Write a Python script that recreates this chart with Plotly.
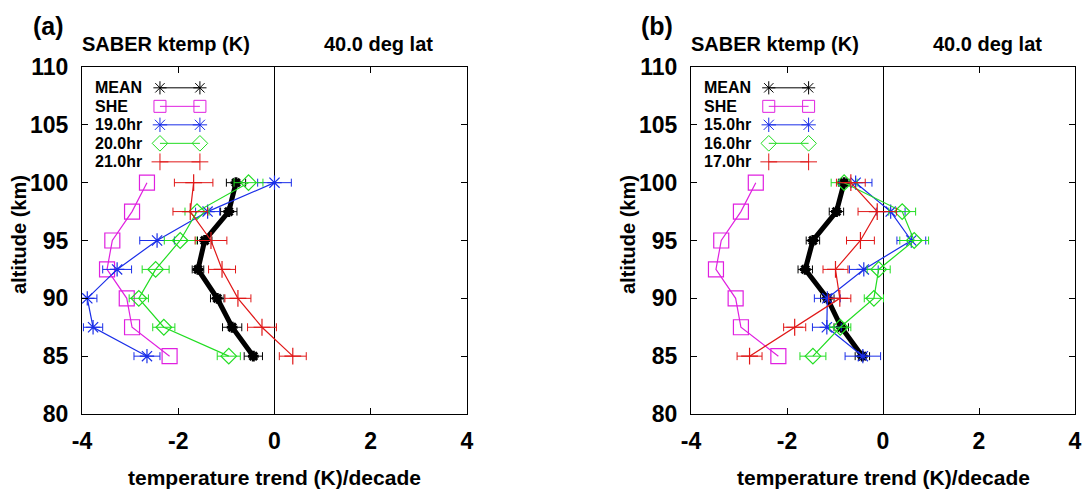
import plotly.graph_objects as go

# ---------------- data ----------------
ALT = [100, 97.5, 95, 92.5, 90, 87.5, 85]

SHE = [-2.65, -2.96, -3.37, -3.48, -3.07, -2.96, -2.18]

# panel (a)
A_MEAN = [-0.80, -0.95, -1.45, -1.59, -1.19, -0.88, -0.44]
A_MEAN_ERR = [0.20, 0.17, 0.15, 0.12, 0.14, 0.20, 0.19]
A_HR19 = [0.00, -1.39, -2.44, -3.27, -3.89, -3.77, -2.65]
A_HR19_ERR = [0.35, 0.25, 0.36, 0.30, 0.20, 0.20, 0.27]
A_HR20 = [-0.54, -1.61, -1.96, -2.47, -2.82, -2.30, -0.95]
A_HR20_ERR = [0.30, 0.25, 0.33, 0.28, 0.20, 0.23, 0.24]
A_HR21 = [-1.68, -1.75, -1.32, -1.09, -0.76, -0.26, 0.38]
A_HR21_ERR = [0.40, 0.36, 0.33, 0.28, 0.27, 0.30, 0.28]
A_LABELS = ["MEAN", "SHE", "19.0hr", "20.0hr", "21.0hr"]

# panel (b)
B_MEAN = [-0.81, -0.97, -1.46, -1.62, -1.16, -0.87, -0.43]
B_MEAN_ERR = [0.12, 0.15, 0.14, 0.15, 0.14, 0.15, 0.15]
B_HR15 = [-0.57, 0.16, 0.59, -0.40, -1.16, -1.17, -0.42]
B_HR15_ERR = [0.34, 0.30, 0.30, 0.30, 0.27, 0.30, 0.37]
B_HR16 = [-0.81, 0.40, 0.65, -0.09, -0.19, -0.89, -1.46]
B_HR16_ERR = [0.27, 0.28, 0.30, 0.24, 0.20, 0.22, 0.27]
B_HR17 = [-0.67, -0.12, -0.47, -0.99, -0.90, -1.84, -2.78]
B_HR17_ERR = [0.30, 0.40, 0.29, 0.26, 0.23, 0.23, 0.26]
B_LABELS = ["MEAN", "SHE", "15.0hr", "16.0hr", "17.0hr"]

X_TICKS = [-4, -2, 0, 2, 4]
X_TICKTEXT = ["-4", "-2", "0", "2", "4"]
Y_TICKS = [80, 85, 90, 95, 100, 105, 110]

# ---------------- styles ----------------
FONT = "Liberation Sans"
BLACK = "#000000"
MAGENTA = "#e020e0"
BLUE = "#1a2ee8"
GREEN = "#22dd22"
RED = "#e01818"

STYLES = [
    dict(color=BLACK, symbol="asterisk-open", size=9, mlw=3, lw=5),
    dict(color=MAGENTA, symbol="square-open", size=15, mlw=1.2, lw=1.2),
    dict(color=BLUE, symbol="asterisk-open", size=12, mlw=1.2, lw=1.2),
    dict(color=GREEN, symbol="diamond-open", size=12, mlw=1.2, lw=1.2),
    dict(color=RED, symbol="cross-thin-open", size=12, mlw=1.2, lw=1.2),
]

fig = go.Figure()


def add_series(x, err, st, xa, ya):
    fig.add_trace(go.Scatter(
        x=x, y=ALT, mode="lines+markers", xaxis=xa, yaxis=ya,
        line=dict(color=st["color"], width=st["lw"]),
        marker=dict(symbol=st["symbol"], size=st["size"], color=st["color"],
                    line=dict(color=st["color"], width=st["mlw"])),
        error_x=None if err is None else dict(type="data", array=err, visible=True,
                                               color=st["color"], thickness=1, width=4),
        showlegend=False, hoverinfo="skip"))


def add_legend(labels, xa, ya):
    ytop, step = 108.2, 1.6
    for i, (lab, st) in enumerate(zip(labels, STYLES)):
        yv = ytop - i * step
        fig.add_trace(go.Scatter(
            x=[-2.38, -1.55], y=[yv, yv], mode="lines+markers", xaxis=xa, yaxis=ya,
            line=dict(color=st["color"], width=1),
            marker=dict(symbol=st["symbol"], size=min(st["size"], 12) if i else 11,
                        color=st["color"], line=dict(color=st["color"], width=1)),
            showlegend=False, hoverinfo="skip"))
        fig.add_annotation(x=-3.78, y=yv, xref=xa, yref=ya, text=lab, showarrow=False,
                           xanchor="left", yanchor="middle",
                           font=dict(family=FONT, size=16, color="black", weight="bold"))


# panel (a)
for x, err, st in zip([A_MEAN, SHE, A_HR19, A_HR20, A_HR21],
                      [A_MEAN_ERR, None, A_HR19_ERR, A_HR20_ERR, A_HR21_ERR], STYLES):
    add_series(x, err, st, "x", "y")
add_legend(A_LABELS, "x", "y")

# panel (b)
for x, err, st in zip([B_MEAN, SHE, B_HR15, B_HR16, B_HR17],
                      [B_MEAN_ERR, None, B_HR15_ERR, B_HR16_ERR, B_HR17_ERR], STYLES):
    add_series(x, err, st, "x2", "y2")
add_legend(B_LABELS, "x2", "y2")

W, H = 1086, 496


def xaxis(dom, anchor):
    return dict(domain=dom, anchor=anchor, range=[-4, 4], tickvals=X_TICKS,
                ticktext=X_TICKTEXT, automargin=False,
                ticks="inside", ticklen=6, tickcolor="black", showline=True,
                linecolor="black", linewidth=1, mirror="ticks", showgrid=False,
                zeroline=True, zerolinecolor="black", zerolinewidth=1,
                ticklabelstandoff=6,
                tickfont=dict(family=FONT, size=23, color="black", weight="bold"))


def yaxis(anchor):
    return dict(domain=[1 - 414 / H, 1 - 67 / H], anchor=anchor, range=[80, 110],
                tickvals=Y_TICKS, ticks="inside", ticklen=6, tickcolor="black",
                automargin=False,
                showline=True, linecolor="black", linewidth=1, mirror="ticks",
                showgrid=False, zeroline=False, ticklabelstandoff=8,
                tickfont=dict(family=FONT, size=23, color="black", weight="bold"))


fig.update_layout(
    width=W, height=H, margin=dict(l=0, r=0, t=0, b=0, autoexpand=False),
    paper_bgcolor="white", plot_bgcolor="white",
    xaxis=xaxis([82 / W, 467 / W], "y"),
    yaxis=yaxis("x"),
    xaxis2=xaxis([691 / W, 1075 / W], "y2"),
    yaxis2=yaxis("x2"),
)


def ann(text, px, py, size, angle=0):
    fig.add_annotation(x=px / W, y=1 - py / H, xref="paper", yref="paper", text=text,
                       showarrow=False, xanchor="center", yanchor="middle", textangle=angle,
                       font=dict(family=FONT, size=size, color="black", weight="bold"))


for off, tag in [(0, "(a)"), (609, "(b)")]:
    ann(tag, 48 + off, 26, 25)
    ann("SABER ktemp (K)", 166 + off, 44, 20)
    ann("40.0 deg lat", 378 + off, 44, 20)
    ann("altitude (km)", 19 + off, 235, 20, -90)
    ann("temperature trend (K)/decade", 274 + off, 477, 21)

fig.write_html("out.html")
